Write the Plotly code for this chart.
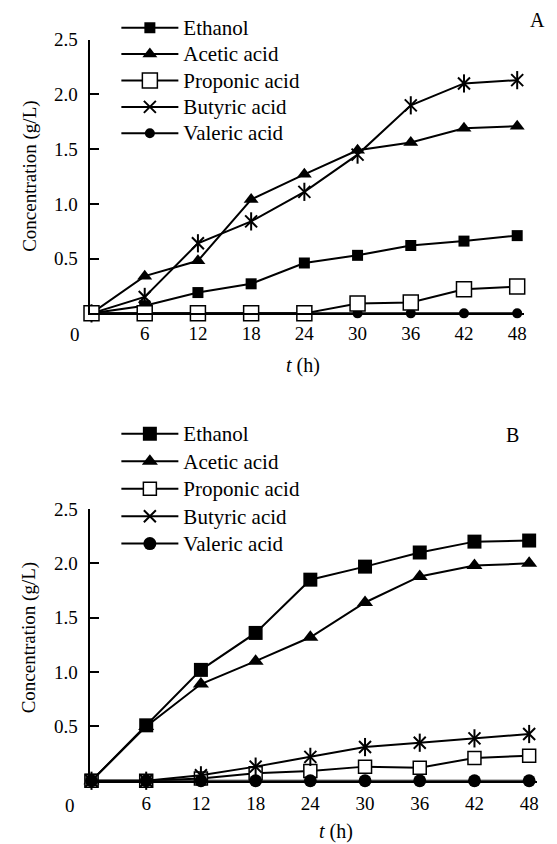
import plotly.graph_objects as go

W, H = 557, 844
FONT = "Liberation Serif, Times New Roman, serif"

hours = [0, 6, 12, 18, 24, 30, 36, 42, 48]
xtick_vals = [6, 12, 18, 24, 30, 36, 42, 48]
xtick_text = ["6", "12", "18", "24", "30", "36", "42", "48"]
ytick_vals = [0.5, 1.0, 1.5, 2.0, 2.5]
ytick_text = ["0.5", "1.0", "1.5", "2.0", "2.5"]

names = ["Ethanol", "Acetic acid", "Proponic acid", "Butyric acid", "Valeric acid"]

# Panel A
ethanol_a = [0, 0.07, 0.19, 0.27, 0.46, 0.53, 0.62, 0.66, 0.71]
acetic_a = [0, 0.34, 0.48, 1.04, 1.27, 1.49, 1.56, 1.69, 1.71]
proponic_a = [0, 0, 0, 0, 0, 0.09, 0.10, 0.22, 0.245]
butyric_a = [0, 0.15, 0.64, 0.84, 1.11, 1.45, 1.90, 2.10, 2.13]
valeric_a = [0, 0, 0, 0, 0, 0, 0, 0, 0]

# Panel B
ethanol_b = [0, 0.51, 1.02, 1.36, 1.85, 1.97, 2.10, 2.20, 2.21]
acetic_b = [0, 0.50, 0.89, 1.10, 1.32, 1.64, 1.88, 1.98, 2.00]
proponic_b = [0, 0, 0.02, 0.07, 0.09, 0.13, 0.12, 0.21, 0.23]
butyric_b = [0, 0, 0.05, 0.13, 0.22, 0.31, 0.35, 0.39, 0.43]
valeric_b = [0, 0, 0, 0, 0, 0, 0, 0, 0]


def px(x, y):
    return x / W, 1 - y / H


fig = go.Figure()


def add_series(panel, data, sizes, order):
    xa = "x" if panel == "A" else "x2"
    ya = "y" if panel == "A" else "y2"
    leg = "legend" if panel == "A" else "legend2"
    styles = {
        "Ethanol": dict(symbol="square", color="black", line=dict(color="black", width=0)),
        "Acetic acid": dict(symbol="triangle-up", color="black", line=dict(color="black", width=0)),
        "Proponic acid": dict(symbol="square", color="white", line=dict(color="black", width=1.5)),
        "Butyric acid": dict(symbol="x-thin-open", color="black", line=dict(color="black", width=2)),
        "Valeric acid": dict(symbol="circle", color="black", line=dict(color="black", width=0)),
    }
    for nm in order:
        st = dict(styles[nm])
        st["size"] = sizes[nm]
        rank = names.index(nm) + 1
        label = "<span style='font-size:21px'>" + nm + "</span>"
        fig.add_trace(go.Scatter(
            x=hours, y=data[nm], name=label, mode="lines+markers",
            line=dict(color="black", width=2), marker=st,
            xaxis=xa, yaxis=ya, legend=leg, legendrank=rank, cliponaxis=False,
        ))
        if nm == "Butyric acid":
            fig.add_trace(go.Scatter(
                x=hours, y=data[nm], name=nm, mode="markers", showlegend=False,
                marker=dict(symbol="line-ns-open", size=sizes[nm] + 1, color="black",
                            line=dict(color="black", width=2)),
                xaxis=xa, yaxis=ya, cliponaxis=False,
            ))


data_a = dict(zip(names, [ethanol_a, acetic_a, proponic_a, butyric_a, valeric_a]))
data_b = dict(zip(names, [ethanol_b, acetic_b, proponic_b, butyric_b, valeric_b]))
sizes_a = {"Ethanol": 11, "Acetic acid": 13, "Proponic acid": 15, "Butyric acid": 12, "Valeric acid": 10}
sizes_b = {"Ethanol": 14, "Acetic acid": 14, "Proponic acid": 13, "Butyric acid": 12, "Valeric acid": 13}

add_series("A", data_a, sizes_a, ["Ethanol", "Acetic acid", "Butyric acid", "Valeric acid", "Proponic acid"])
add_series("B", data_b, sizes_b, ["Ethanol", "Acetic acid", "Proponic acid", "Butyric acid", "Valeric acid"])

xcommon = dict(tickvals=xtick_vals, ticktext=xtick_text, showline=True, linecolor="black",
               linewidth=2, ticks="", showgrid=False, zeroline=False,
               tickfont=dict(family=FONT, size=19, color="black"))
ycommon = dict(tickvals=ytick_vals, ticktext=ytick_text, range=[0, 2.5], showline=True,
               linecolor="black", linewidth=2, ticks="inside", ticklen=9, tickwidth=2,
               tickcolor="black", showgrid=False, zeroline=False, ticklabelstandoff=6,
               tickfont=dict(family=FONT, size=19, color="black"))

fig.update_layout(
    width=W, height=H, margin=dict(l=0, r=0, t=0, b=0),
    paper_bgcolor="white", plot_bgcolor="white",
    xaxis=dict(domain=[90 / W, 527 / W], range=[-0.224, 48.785], anchor="y",
               ticklabelstandoff=2, **xcommon),
    yaxis=dict(domain=[1 - 307 / H, 1 - 30 / H], anchor="x", **ycommon),
    xaxis2=dict(domain=[90 / W, 540 / W], range=[-0.218, 48.87], anchor="y2",
                ticklabelstandoff=4, **xcommon),
    yaxis2=dict(domain=[1 - 780 / H, 1 - 505 / H], anchor="x2", **ycommon),
    legend=dict(x=px(117, 0)[0], y=px(0, -0.5)[1], xanchor="left", yanchor="top",
                font=dict(family=FONT, size=18, color="black"),
                bgcolor="rgba(0,0,0,0)", itemwidth=57, tracegroupgap=0),
    legend2=dict(x=px(117, 0)[0], y=px(0, 410)[1], xanchor="left", yanchor="top",
                 font=dict(family=FONT, size=18.8, color="black"),
                 bgcolor="rgba(0,0,0,0)", itemwidth=57, tracegroupgap=0),
    showlegend=True,
)

annots = [
    ("<i>t</i> (h)", 305, 360, 0, 20),
    ("<i>t</i> (h)", 338, 831, 0, 20),
    ("Concentration (g/L)", 30, 168, -90, 19),
    ("Concentration (g/L)", 30, 635, -90, 19),
    ("A", 540, 10, 0, 20),
    ("B", 515, 430, 0, 20),
    ("0", 75, 328, 0, 19),
    ("0", 70, 805, 0, 19),
]
for txt, ax, ay, rot, fs in annots:
    xp, yp = px(ax, ay)
    fig.add_annotation(text=txt, x=xp, y=yp, xref="paper", yref="paper", showarrow=False,
                       textangle=rot, xanchor="center", yanchor="middle",
                       font=dict(family=FONT, size=fs, color="black"))

fig.write_html("out.html")
